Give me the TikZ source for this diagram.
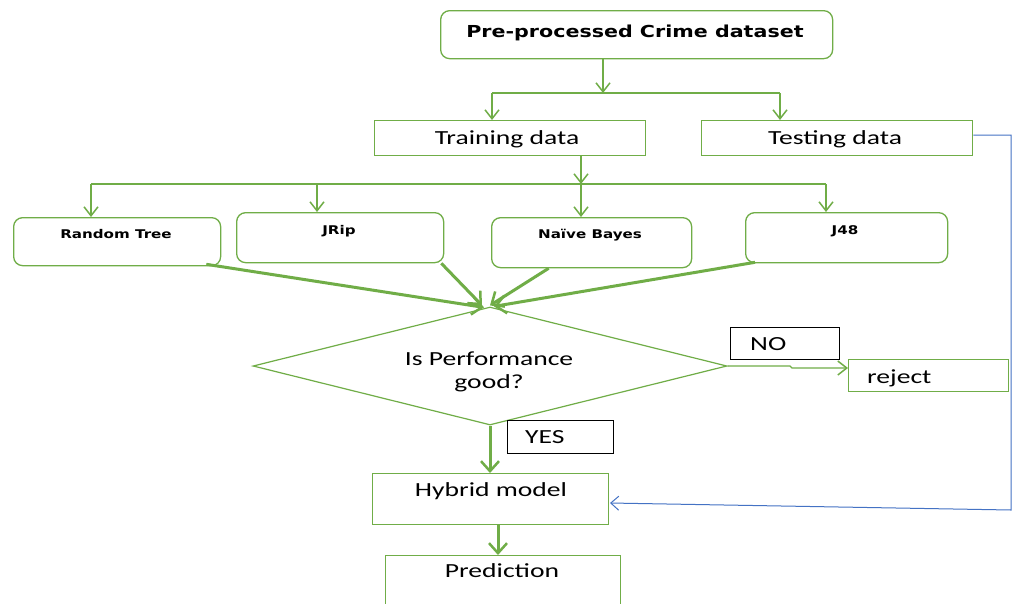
\documentclass[tikz,border=0pt]{standalone}
\usepackage{fontspec}
\usepackage{graphicx}
\setmainfont{Carlito}
\newfontfamily\vbfont{DejaVu Sans}
\usetikzlibrary{arrows.meta,shapes.geometric,calc}
\definecolor{grn}{RGB}{112,173,71}
\definecolor{blu}{RGB}{68,114,196}
\newcommand\sxx[1]{\scalebox{1.38}[1]{#1}}
\newcommand\sbx[1]{\scalebox{1.26}[1]{#1}}
\tikzset{
  gbox/.style={draw=grn, line width=1.3pt, inner sep=0pt, anchor=north west},
  rbox/.style={gbox, rounded corners=9pt},
  kbox/.style={draw=black, line width=1pt, inner sep=0pt, anchor=north west},
  txt/.style={inner sep=0pt, anchor=base, font=\fontsize{20}{22}\selectfont},
  ltxt/.style={txt, anchor=base west},
  btxt/.style={inner sep=0pt, anchor=base, font=\vbfont\bfseries\fontsize{12}{14}\selectfont},
  gline/.style={draw=grn, line width=1.5pt},
  garrow/.style={gline, -{Straight Barb[length=9pt,width=14pt,line width=1.5pt]}},
  tarrow/.style={draw=grn, line width=3pt, -{Straight Barb[length=10pt,width=18pt,line width=2.5pt]}},
  barrow/.style={draw=blu, line width=1pt, -{Straight Barb[length=8pt,width=14pt,line width=1pt]}},
}
\begin{document}
\begin{tikzpicture}[x=1pt,y=-1pt]
\clip (0,0) rectangle (1016,603);
\fill[white] (0,0) rectangle (1016,603);

% boxes
\node[rbox, minimum width=392pt, minimum height=48pt] (pre) at (440,10) {};
\node[inner sep=0pt, anchor=base, font=\vbfont\bfseries\fontsize{16.5}{18}\selectfont] (pret) at (635,37) {\scalebox{1.25}[1]{Pre-processed Crime dataset}};

\node[gbox, minimum width=271pt, minimum height=35pt] (tr) at (374,120) {};
\node[txt] (trt) at (507,144) {\sxx{Training data}};
\node[gbox, minimum width=271pt, minimum height=35pt] (te) at (701,120) {};
\node[txt] (tet) at (835,144) {\sxx{Testing data}};

\node[rbox, minimum width=207pt, minimum height=48pt] (rt) at (13,217) {};
\node[btxt] (rtt) at (116,238) {\sbx{Random Tree}};
\node[rbox, minimum width=207pt, minimum height=50pt] (jr) at (236,212) {};
\node[btxt] (jrt) at (339,234) {\sbx{JRip}};
\node[rbox, minimum width=200pt, minimum height=50pt] (nb) at (491,217) {};
\node[btxt] (nbt) at (590,238) {\sbx{Naïve Bayes}};
\node[rbox, minimum width=202pt, minimum height=50pt] (jf) at (745,212) {};
\node[btxt] (jft) at (845,234) {\sbx{J48}};

\node[diamond, draw=grn, line width=1.2pt, minimum width=474pt, minimum height=118pt, inner sep=0pt] (dia) at (490,366) {};
\node[txt] (diat1) at (489,365) {\sxx{Is Performance}};
\node[txt] (diat2) at (489,388) {\sxx{good?}};

\node[kbox, minimum width=109pt, minimum height=32pt] (no) at (730,327) {};
\node[ltxt] (not) at (750,350) {\sxx{NO}};
\node[gbox, minimum width=160pt, minimum height=32pt] (rej) at (848,359) {};
\node[ltxt] (rejt) at (867,383) {\sxx{reject}};

\node[kbox, minimum width=106pt, minimum height=33pt] (yes) at (507,420) {};
\node[ltxt] (yest) at (525,443) {\sxx{YES}};

\node[gbox, minimum width=236pt, minimum height=51pt] (hy) at (372,473) {};
\node[txt] (hyt) at (491,496) {\sxx{Hybrid model}};
\node[gbox, minimum width=235pt, minimum height=60pt] (pr) at (385,555) {};
\node[txt] (prt) at (502,577) {\sxx{Prediction}};

% connectors
\coordinate (j1) at (603,93);
\draw[garrow] (pre.south -| j1) -- (j1);
\coordinate (b1) at (492,93);
\coordinate (b2) at (780,93);
\draw[gline] (b1) -- (b2);
\draw[garrow] (b1) -- (b1 |- tr.north);
\draw[garrow] (b2) -- (b2 |- te.north);

\coordinate (j2) at (581,184);
\draw[garrow] (j2 |- tr.south) -- (j2);
\coordinate (c1) at (91,184);
\coordinate (c2) at (317,184);
\coordinate (c3) at (826,184);
\draw[gline] (c1) -- (c3);
\draw[garrow] (c1) -- (c1 |- rt.north);
\draw[garrow] (c2) -- (c2 |- jr.north);
\draw[garrow] (j2) -- (j2 |- nb.north);
\draw[garrow] (c3) -- (c3 |- jf.north);

\draw[tarrow] ($(rt.south east)+(-15,-2)$) -- ($(dia.north)+(-6,1)$);
\draw[tarrow] ($(jr.south east)+(-3,0)$) -- ($(dia.north)+(-8,-1)$);
\draw[tarrow] ($(nb.south)+(-43,0)$) -- ($(dia.north)+(0,-1)$);
\draw[tarrow] ($(jf.south west)+(10,-1)$) -- ($(dia.north)+(4,0)$);

\coordinate (n1) at (790,366);
\coordinate (n2) at (792,368);
\draw[garrow, line width=1.2pt] (dia.east) -- (n1) -- (n2) -- (n2 -| rej.west);

\draw[tarrow] (dia.south) -- (dia.south |- hy.north);
\coordinate (h1) at (498,524);
\draw[tarrow] (h1) -- (h1 |- pr.north);

\coordinate (q1) at (1011,135);
\coordinate (q2) at (1011,510);
\coordinate (q3) at (610,503);
\draw[barrow] (te.east |- q1) -- (q1) -- (q2) -- (q3);
\end{tikzpicture}
\end{document}
